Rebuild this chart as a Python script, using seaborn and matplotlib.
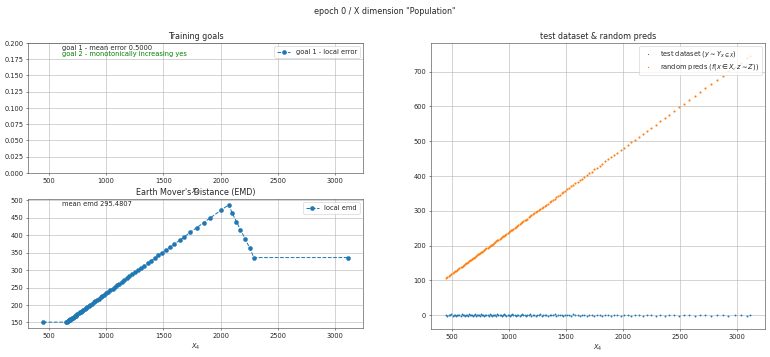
import seaborn as sns
import matplotlib
matplotlib.use("Agg")
import matplotlib.pyplot as plt

# EMD per x-quantile
emd_x = [450, 650, 656, 662, 668, 674, 680, 687, 694, 701, 708, 716, 724, 732, 740,
         749, 758, 768, 778, 789, 800, 812, 824, 836, 849, 862, 876, 890, 905, 920,
         935, 951, 967, 984, 1001, 1019, 1037, 1056, 1075, 1095, 1115, 1136, 1158,
         1180, 1203, 1227, 1252, 1278, 1305, 1333, 1362, 1392, 1423, 1455, 1488, 1520,
         1555, 1596, 1643, 1681, 1736, 1789, 1850, 1911, 1999, 2070, 2101, 2138, 2173,
         2214, 2252, 2290, 3110]
emd_y = [151, 151, 152, 153, 155, 156, 158, 159, 161, 163, 164, 166, 168, 170, 172,
         174, 176, 179, 181, 184, 186, 189, 192, 195, 198, 201, 204, 208, 211, 215,
         218, 222, 226, 230, 234, 238, 243, 247, 252, 256, 261, 266, 271,
         277, 282, 288, 294, 300, 306, 313, 320, 327, 334, 342, 350, 357,
         366, 375, 386, 395, 409, 421, 436, 450, 471, 487, 463, 439, 415,
         390, 364, 336, 336]
mean_emd = 295.4807

# goal 1 local error (all above the 0.2 y-limit)
goal1_x = [450, 3110]
goal1_err = [0.5, 0.5]
mean_error = 0.5

# test dataset and random predictions
test_x = [452, 463, 475, 486, 497, 509, 518, 527, 538, 549,
          558, 567, 578, 589, 597, 606, 615, 626, 634, 643,
          652, 661, 669, 678, 688, 697, 705, 714, 723, 733,
          741, 750, 759, 768, 778, 786, 795, 805, 814, 823,
          833, 842, 851, 861, 870, 880, 890, 899, 909, 919,
          929, 938, 948, 958, 968, 978, 989, 999, 1009, 1020,
          1030, 1041, 1051, 1062, 1073, 1084, 1095, 1106, 1117, 1129,
          1140, 1152, 1163, 1175, 1187, 1199, 1211, 1224, 1236, 1249,
          1262, 1275, 1288, 1301, 1315, 1329, 1343, 1357, 1371, 1386,
          1401, 1416, 1431, 1447, 1463, 1479, 1496, 1513, 1530, 1548,
          1566, 1584, 1603, 1622, 1642, 1662, 1683, 1704, 1726, 1748,
          1771, 1795, 1819, 1844, 1870, 1896, 1923, 1951, 1980, 2010,
          2041, 2073, 2106, 2140, 2175, 2211, 2248, 2286, 2325, 2365,
          2406, 2448, 2491, 2535, 2580, 2626, 2673, 2721, 2770, 2820,
          2871, 2923, 2976, 3030, 3085, 3110]
test_y = [1, -1, 2, 0, 3, -2, 1, 2, -1, 0,
          2, 1, -2, 3, 0, 1, -1, 2, 0, -2,
          3, 1, 0, 2, -1, 1, 3, -2, 0, 2,
          1, -1, 3, 0, 2, -2, 1, 0, 2, -1,
          3, 1, -1, 2, 0, 1, -2, 3, 1, 0,
          2, -1, 1, 3, 0, -2, 2, 1, -1, 0,
          3, 1, 2, -1, 0, 2, -2, 1, 3, 0,
          1, -1, 2, 0, 3, -1, 1, 2, -2, 0,
          1, 3, -1, 2, 0, 1, -2, 2, 1, 0,
          3, -1, 1, 0, 2, -1, 2, 0, 1, -2,
          3, 0, 1, -1, 2, 0, -1, 1, 2, -2,
          0, 1, -1, 2, 0, -2, 1, 0, -1, 2,
          1, -2, 0, 1, -1, 2, 0, -1, 1, -2,
          0, 1, -1, 2, 0, -1, 1, 0, -2, 1,
          0, -1, 1, 0, -1, 1]
pred_y = [108, 110, 113, 116, 118, 121, 123, 126, 128, 131,
          133, 135, 138, 140, 142, 144, 147, 149, 151, 153,
          156, 158, 160, 162, 164, 166, 168, 170, 173, 175,
          177, 179, 181, 183, 186, 188, 190, 192, 194, 197,
          199, 201, 203, 206, 208, 210, 213, 215, 217, 220,
          222, 224, 227, 229, 231, 234, 236, 239, 241, 244,
          246, 249, 251, 254, 257, 259, 262, 264, 267, 270,
          273, 275, 278, 281, 284, 287, 290, 293, 296, 299,
          302, 305, 308, 311, 315, 318, 321, 325, 328, 332,
          335, 339, 342, 346, 350, 354, 358, 362, 366, 371,
          375, 379, 384, 388, 393, 398, 403, 408, 413, 419,
          424, 430, 436, 442, 448, 454, 461, 467, 474, 481,
          489, 497, 504, 513, 521, 530, 539, 548, 557, 567,
          576, 587, 597, 607, 618, 629, 641, 652, 664, 676,
          688, 701, 713, 726, 739, 745]

blue = "#1f77b4"
orange = "#ff7f0e"

sns.set_style("ticks", {"axes.grid": True, "grid.color": "#b0b0b0",
                        "axes.edgecolor": "#333333"})
plt.rcParams['font.family'] = ['DejaVu Sans']

fig = plt.figure(figsize=(16, 7.42))
ax2 = fig.add_axes([0.0364, 0.0812, 0.435, 0.3613])
ax1 = fig.add_axes([0.0364, 0.5154, 0.435, 0.3641], sharex=ax2)
ax3 = fig.add_axes([0.5597, 0.0784, 0.4338, 0.801])

# training goals
sns.lineplot(x=goal1_x, y=goal1_err, marker='o', linestyle='--', color=blue,
             markeredgecolor=blue, label='goal 1 - local error', ax=ax1)
ax1.set_ylim(0, 0.2)
ax1.set_title("Training goals")
ax1.set_xlabel("$X_4$")
ax1.text(0.1, 0.95, f"goal 1 - mean error {mean_error:.4f}", transform=ax1.transAxes)
ax1.text(0.1, 0.90, "goal 2 - monotonically increasing yes", color="green",
         transform=ax1.transAxes)
ax1.legend(loc="upper right")

# EMD
sns.lineplot(x=emd_x, y=emd_y, marker='o', linestyle='--', color=blue,
             markeredgecolor=blue, label='local emd', ax=ax2)
ax2.set_title("Earth Mover's Distance (EMD)")
ax2.set_xlabel("$X_4$")
ax2.text(0.1, 0.95, f"mean emd {mean_emd:.4f}", transform=ax2.transAxes)
ax2.legend(loc="upper right")

# test dataset & random preds
sns.scatterplot(x=test_x, y=test_y, s=8, marker='o', linewidth=0, color=blue,
                label=r"test dataset ($y \sim Y_{x \in X}$)", ax=ax3)
sns.scatterplot(x=test_x, y=pred_y, s=10, marker='o', linewidth=0, color=orange,
                label=r"random preds ($f(x \in X, z \sim Z)$)", ax=ax3)
ax3.set_title("test dataset & random preds")
ax3.set_xlabel("$X_4$")
ax3.legend(loc="upper right", markerscale=0.6)

fig.suptitle('epoch 0 / X dimension "Population"')
fig.savefig("out.png", dpi=48.125)
